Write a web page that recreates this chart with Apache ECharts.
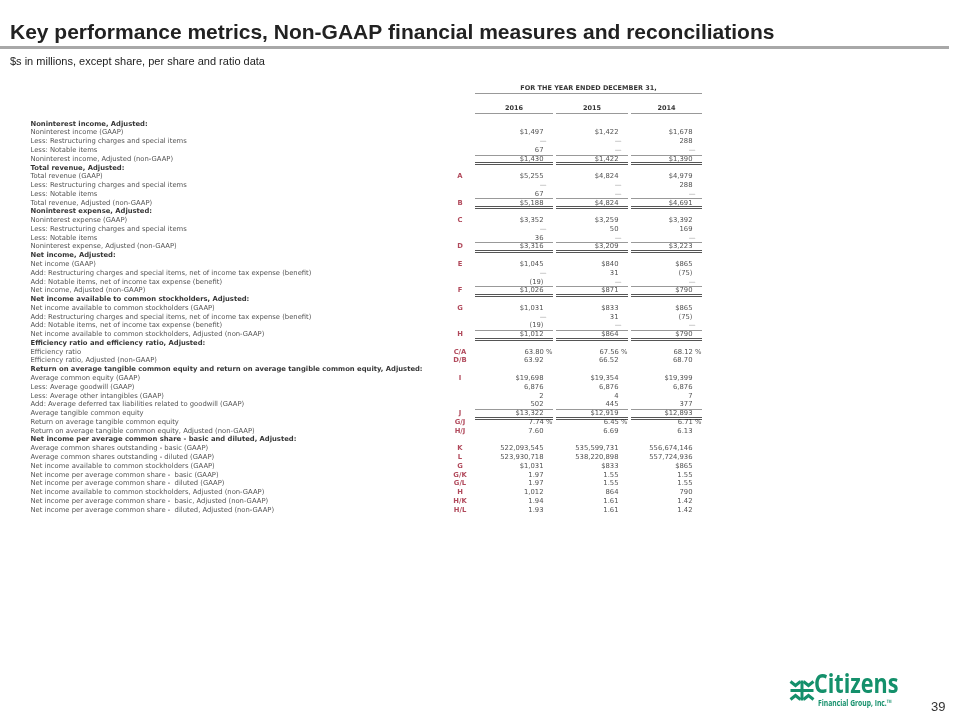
<!DOCTYPE html>
<html>
<head>
<meta charset="utf-8">
<script src="https://cdn.jsdelivr.net/npm/echarts@6/dist/echarts.min.js"></script>
<style>
  html, body { margin: 0; padding: 0; background: #fff; }
  #main { width: 960px; height: 720px; }
</style>
</head>
<body>
<div id="main"></div>
<script>
// table rows: label, reference letter, values per year
const years = ['2016', '2015', '2014'];
const headerRows = [0, 5, 10, 15, 20, 25, 28, 36];
const subtotalRows = [4, 9, 14, 19, 24, 33];

const rowLabels = [
  'Noninterest income, Adjusted:',
  'Noninterest income (GAAP)',
  'Less: Restructuring charges and special items',
  'Less: Notable items',
  'Noninterest income, Adjusted (non-GAAP)',
  'Total revenue, Adjusted:',
  'Total revenue (GAAP)',
  'Less: Restructuring charges and special items',
  'Less: Notable items',
  'Total revenue, Adjusted (non-GAAP)',
  'Noninterest expense, Adjusted:',
  'Noninterest expense (GAAP)',
  'Less: Restructuring charges and special items',
  'Less: Notable items',
  'Noninterest expense, Adjusted (non-GAAP)',
  'Net income, Adjusted:',
  'Net income (GAAP)',
  'Add: Restructuring charges and special items, net of income tax expense (benefit)',
  'Add: Notable items, net of income tax expense (benefit)',
  'Net income, Adjusted (non-GAAP)',
  'Net income available to common stockholders, Adjusted:',
  'Net income available to common stockholders (GAAP)',
  'Add: Restructuring charges and special items, net of income tax expense (benefit)',
  'Add: Notable items, net of income tax expense (benefit)',
  'Net income available to common stockholders, Adjusted (non-GAAP)',
  'Efficiency ratio and efficiency ratio, Adjusted:',
  'Efficiency ratio',
  'Efficiency ratio, Adjusted (non-GAAP)',
  'Return on average tangible common equity and return on average tangible common equity, Adjusted:',
  'Average common equity (GAAP)',
  'Less: Average goodwill (GAAP)',
  'Less: Average other intangibles (GAAP)',
  'Add: Average deferred tax liabilities related to goodwill (GAAP)',
  'Average tangible common equity',
  'Return on average tangible common equity',
  'Return on average tangible common equity, Adjusted (non-GAAP)',
  'Net income per average common share - basic and diluted, Adjusted:',
  'Average common shares outstanding - basic (GAAP)',
  'Average common shares outstanding - diluted (GAAP)',
  'Net income available to common stockholders (GAAP)',
  'Net income per average common share -  basic (GAAP)',
  'Net income per average common share -  diluted (GAAP)',
  'Net income available to common stockholders, Adjusted (non-GAAP)',
  'Net income per average common share -  basic, Adjusted (non-GAAP)',
  'Net income per average common share -  diluted, Adjusted (non-GAAP)'
];

const refLetters = [
  '', '', '', '', '',
  '', 'A', '', '', 'B',
  '', 'C', '', '', 'D',
  '', 'E', '', '', 'F',
  '', 'G', '', '', 'H',
  '', 'C/A', 'D/B',
  '', 'I', '', '', '', 'J', 'G/J', 'H/J',
  '', 'K', 'L', 'G', 'G/K', 'G/L', 'H', 'H/K', 'H/L'
];

const v2016 = [
  '', '$1,497', '\u2014', '67', '$1,430',
  '', '$5,255', '\u2014', '67', '$5,188',
  '', '$3,352', '\u2014', '36', '$3,316',
  '', '$1,045', '\u2014', '(19)', '$1,026',
  '', '$1,031', '\u2014', '(19)', '$1,012',
  '', '63.80 %', '63.92',
  '', '$19,698', '6,876', '2', '502', '$13,322', '7.74 %', '7.60',
  '', '522,093,545', '523,930,718', '$1,031', '1.97', '1.97', '1,012', '1.94', '1.93'
];
const v2015 = [
  '', '$1,422', '\u2014', '\u2014', '$1,422',
  '', '$4,824', '\u2014', '\u2014', '$4,824',
  '', '$3,259', '50', '\u2014', '$3,209',
  '', '$840', '31', '\u2014', '$871',
  '', '$833', '31', '\u2014', '$864',
  '', '67.56 %', '66.52',
  '', '$19,354', '6,876', '4', '445', '$12,919', '6.45 %', '6.69',
  '', '535,599,731', '538,220,898', '$833', '1.55', '1.55', '864', '1.61', '1.61'
];
const v2014 = [
  '', '$1,678', '288', '\u2014', '$1,390',
  '', '$4,979', '288', '\u2014', '$4,691',
  '', '$3,392', '169', '\u2014', '$3,223',
  '', '$865', '(75)', '\u2014', '$790',
  '', '$865', '(75)', '\u2014', '$790',
  '', '68.12 %', '68.70',
  '', '$19,399', '6,876', '7', '377', '$12,893', '6.71 %', '6.13',
  '', '556,674,146', '557,724,936', '$865', '1.55', '1.55', '790', '1.42', '1.42'
];

// column layout (pixels along a 0..960 x axis)
const labelX = 30;
const refX = 460;
const valueRight = [544, 619, 693];
const colSpans = [[475, 553], [556, 628], [631, 702]];

const tableFont = 'DejaVu Sans';
const fs = 6.8;
const txt = '#1e1e1e';
const refColor = '#9e1b32';

const yearValues = [v2016, v2015, v2014];

const chart = echarts.init(document.getElementById('main'), null, { renderer: 'canvas' });

function textSeries(name, data, pos, extra) {
  return Object.assign({
    type: 'scatter', name, silent: true, symbolSize: 1,
    itemStyle: { color: 'rgba(0,0,0,0)' },
    xAxisIndex: 0, yAxisIndex: 0,
    label: {
      show: true, position: pos, distance: 0,
      fontFamily: tableFont, fontSize: fs, color: txt,
      formatter: p => p.data.name
    },
    data
  }, extra || {});
}

const labelData = rowLabels.map((l, i) => ({
  name: l, value: [labelX, i],
  label: headerRows.includes(i) ? { fontWeight: 'bold', color: '#000' } : {}
}));
const refData = refLetters.map((r, i) => ({ name: r, value: [refX, i] }))
  .filter(d => d.name);

const valueSeries = yearValues.map((vals, c) => textSeries('v' + years[c],
  vals.map((v, i) => ({
    name: v, value: [valueRight[c], i],
    label: v.endsWith('%') ? { offset: [9, 0] } : (v === '\u2014' ? { offset: [3, 0], color: '#777' } : {})
  })).filter(d => d.name), 'left'));

const rules = {
  type: 'custom', silent: true, xAxisIndex: 0, yAxisIndex: 0,
  data: subtotalRows.map(r => [0, r]),
  renderItem: (params, api) => {
    const row = api.value(1);
    const band = api.size([0, 1])[1];
    const children = [];
    colSpans.forEach(s => {
      const a = api.coord([s[0], row]);
      const b = api.coord([s[1], row]);
      const yTop = Math.round(a[1] - band / 2) + 0.5;
      const yBot = Math.round(a[1] + band / 2) - 0.5;
      children.push({ type: 'line', shape: { x1: a[0], y1: yTop, x2: b[0], y2: yTop }, style: { stroke: '#999', lineWidth: 1 } });
      children.push({ type: 'line', shape: { x1: a[0], y1: yBot, x2: b[0], y2: yBot }, style: { stroke: '#555', lineWidth: 1 } });
      children.push({ type: 'line', shape: { x1: a[0], y1: yBot + 2, x2: b[0], y2: yBot + 2 }, style: { stroke: '#555', lineWidth: 1 } });
    });
    return { type: 'group', children };
  }
};

// header block: span title and year columns
const headerRules = {
  type: 'custom', silent: true, xAxisIndex: 1, yAxisIndex: 1,
  data: [[0, 0], [0, 1]],
  renderItem: (params, api) => {
    const row = api.value(1);
    const spans = row === 0 ? [[colSpans[0][0], colSpans[2][1]]] : colSpans;
    return {
      type: 'group',
      children: spans.map(s => {
        const a = api.coord([s[0], row]);
        const b = api.coord([s[1], row]);
        const y = Math.round(a[1] + 5) + 0.5;
        return { type: 'line', shape: { x1: a[0], y1: y, x2: b[0], y2: y }, style: { stroke: '#999', lineWidth: 1.2 } };
      })
    };
  }
};

const headerText = {
  type: 'scatter', silent: true, symbolSize: 1, xAxisIndex: 1, yAxisIndex: 1,
  itemStyle: { color: 'rgba(0,0,0,0)' },
  label: {
    show: true, position: 'inside', fontFamily: tableFont, fontSize: 6.5,
    fontWeight: 'bold', color: '#000', formatter: p => p.data.name
  },
  data: [{ name: 'FOR THE YEAR ENDED DECEMBER 31,', value: [(colSpans[0][0] + colSpans[2][1]) / 2, 0] }]
    .concat(years.map((y, c) => ({ name: y, value: [(colSpans[c][0] + colSpans[c][1]) / 2, 1] })))
};

const rowIdx = rowLabels.map((_, i) => String(i));
const green = '#14906b';

const option = {
  animation: false,
  backgroundColor: '#fff',
  grid: [
    { left: 0, right: 0, top: 119.5, height: 394.7 },
    { left: 0, right: 0, top: 78, height: 40 }
  ],
  xAxis: [
    { type: 'value', min: 0, max: 960, show: false, gridIndex: 0 },
    { type: 'value', min: 0, max: 960, show: false, gridIndex: 1 }
  ],
  yAxis: [
    { type: 'category', data: rowIdx, inverse: true, show: false, gridIndex: 0 },
    { type: 'category', data: ['span', 'years'], inverse: true, show: false, gridIndex: 1 }
  ],
  graphic: [
    { type: 'text', left: 10, top: 23, style: { text: 'Key performance metrics, Non-GAAP financial measures and reconciliations', font: 'bold 21px "Liberation Sans"', fill: '#222' } },
    { type: 'rect', left: 0, top: 46, shape: { width: 949, height: 3 }, style: { fill: '#a8a8a8' } },
    { type: 'text', left: 10, top: 56, style: { text: '$s in millions, except share, per share and ratio data', font: '11px "Liberation Sans Narrow", "Liberation Sans"', fill: '#222' } },
    { type: 'text', left: 931, top: 701, style: { text: '39', font: '13px "Liberation Sans"', fill: '#333' } },
    { type: 'text', left: 814, top: 672, scaleX: 0.8, style: { text: 'Citizens', font: 'bold 27px "Open Sans", "Liberation Sans"', fill: green } },
    { type: 'text', left: 818, top: 699, scaleX: 0.75, style: { text: 'Financial Group, Inc.\u2122', font: 'bold 9px "Open Sans", "Liberation Sans"', fill: green } },
    {
      type: 'group', left: 788, top: 678,
      children: [
        { type: 'polyline', shape: { points: [[0, 1], [5, 5], [10, 1]] }, style: { stroke: green, lineWidth: 3, fill: null } },
        { type: 'polyline', shape: { points: [[13, 1], [18, 5], [23, 1]] }, style: { stroke: green, lineWidth: 3, fill: null } },
        { type: 'polyline', shape: { points: [[0, 19], [5, 15], [10, 19]] }, style: { stroke: green, lineWidth: 3, fill: null } },
        { type: 'polyline', shape: { points: [[13, 19], [18, 15], [23, 19]] }, style: { stroke: green, lineWidth: 3, fill: null } },
        { type: 'line', shape: { x1: 0, y1: 10, x2: 23, y2: 10 }, style: { stroke: green, lineWidth: 3 } },
        { type: 'line', shape: { x1: 11.5, y1: 0, x2: 11.5, y2: 20 }, style: { stroke: green, lineWidth: 3 } }
      ]
    }
  ],
  series: [
    textSeries('labels', labelData, 'right'),
    textSeries('refs', refData, 'inside', { label: { show: true, position: 'inside', fontFamily: tableFont, fontSize: fs, fontWeight: 'bold', color: refColor, formatter: p => p.data.name } }),
    ...valueSeries,
    rules,
    headerRules,
    headerText
  ]
};

chart.setOption(option);
</script>
</body>
</html>
